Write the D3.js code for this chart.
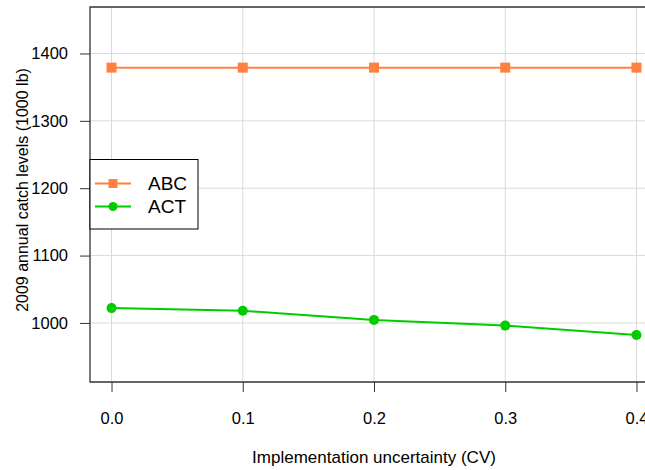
<!DOCTYPE html>
<html>
<head>
<meta charset="utf-8">
<script src="https://cdn.jsdelivr.net/npm/d3@7"></script>
<style>
html,body{margin:0;padding:0;background:#fff;}
svg{display:block;font-family:"Liberation Sans",Arial,sans-serif;}
</style>
</head>
<body>
<svg id="c" width="645" height="470"></svg>
<script>
const cvValues = [0.0, 0.1, 0.2, 0.3, 0.4];
const abcValues = [1379, 1379, 1379, 1379, 1379];
const actValues = [1022, 1018, 1004.5, 996, 982];
const xTicks = [0.0, 0.1, 0.2, 0.3, 0.4];
const yTicks = [1000, 1100, 1200, 1300, 1400];
const seriesNames = ["ABC", "ACT"];
const seriesColors = ["#FF8040", "#00CC00"];

const svg = d3.select("#c");
const L = 90, R = 658, T = 7, B = 382;
const x = d3.scaleLinear().domain([-0.0164, 0.4164]).range([L, R]);
const y = d3.scaleLinear().domain([912.3, 1469]).range([B, T]);

// grid
const g = svg.append("g");
g.selectAll(".vg").data(xTicks).join("line")
  .attr("x1", d => x(d)).attr("x2", d => x(d)).attr("y1", T).attr("y2", B)
  .attr("stroke", "#d9d9d9").attr("stroke-width", 1);
g.selectAll(".hg").data(yTicks).join("line")
  .attr("x1", L).attr("x2", R).attr("y1", d => y(d)).attr("y2", d => y(d))
  .attr("stroke", "#d9d9d9").attr("stroke-width", 1);

// axes
const xAxis = d3.axisBottom(x).tickValues(xTicks).tickFormat(d3.format(".1f")).tickSize(10).tickPadding(20);
const yAxis = d3.axisLeft(y).tickValues(yTicks).tickFormat(d3.format("d")).tickSize(10).tickPadding(12);
const xa = svg.append("g").attr("transform", `translate(0,${B})`).call(xAxis);
const ya = svg.append("g").attr("transform", `translate(${L},0)`).call(yAxis);
[xa, ya].forEach(a => {
  a.select(".domain").remove();
  a.selectAll(".tick line").attr("stroke", "#333");
  a.selectAll(".tick text").attr("font-size", 16.5).attr("fill", "#000")
    .attr("font-family", "'Liberation Sans',Arial,sans-serif");
});

// box
svg.append("path").attr("d", `M${R},${T}H${L}V${B}H${R}`).attr("fill", "none")
  .attr("stroke", "#333").attr("stroke-width", 1.3);

// series
const line = d3.line().x(d => x(d[0])).y(d => y(d[1]));
const abc = cvValues.map((c, i) => [c, abcValues[i]]);
const act = cvValues.map((c, i) => [c, actValues[i]]);
svg.append("path").datum(abc).attr("d", line).attr("fill", "none")
  .attr("stroke", seriesColors[0]).attr("stroke-width", 2);
svg.selectAll(".sq").data(abc).join("rect")
  .attr("x", d => x(d[0]) - 5).attr("y", d => y(d[1]) - 5)
  .attr("width", 10).attr("height", 10).attr("fill", seriesColors[0]);
svg.append("path").datum(act).attr("d", line).attr("fill", "none")
  .attr("stroke", seriesColors[1]).attr("stroke-width", 2);
svg.selectAll(".ci").data(act).join("circle")
  .attr("cx", d => x(d[0])).attr("cy", d => y(d[1])).attr("r", 5)
  .attr("fill", seriesColors[1]);

// legend
const lg = svg.append("g");
lg.append("rect").attr("x", 90).attr("y", 159.5).attr("width", 108).attr("height", 69.5)
  .attr("fill", "#fff").attr("stroke", "#000").attr("stroke-width", 1);
const ly = [183.5, 206.5];
seriesNames.forEach((n, i) => {
  lg.append("line").attr("x1", 95).attr("x2", 131).attr("y1", ly[i]).attr("y2", ly[i])
    .attr("stroke", seriesColors[i]).attr("stroke-width", 2);
  if (i === 0) {
    lg.append("rect").attr("x", 108.5).attr("y", ly[i] - 4.5).attr("width", 9).attr("height", 9)
      .attr("fill", seriesColors[i]);
  } else {
    lg.append("circle").attr("cx", 113).attr("cy", ly[i]).attr("r", 4.5).attr("fill", seriesColors[i]);
  }
  lg.append("text").attr("x", 148).attr("y", ly[i]).attr("dy", "0.36em")
    .attr("font-size", 19).attr("fill", "#000").text(n);
});

// titles
svg.append("text").attr("x", 374).attr("y", 463).attr("text-anchor", "middle")
  .attr("font-size", 17).attr("fill", "#000").text("Implementation uncertainty (CV)");
svg.append("text").attr("transform", "translate(28,190) rotate(-90)").attr("text-anchor", "middle")
  .attr("font-size", 16).attr("fill", "#000").text("2009 annual catch levels (1000 lb)");
</script>
</body>
</html>
